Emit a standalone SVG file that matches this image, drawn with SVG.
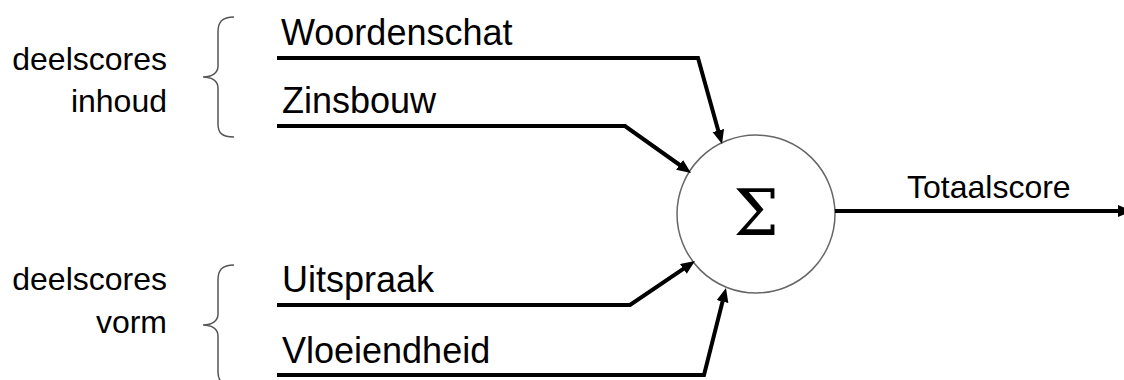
<svg xmlns="http://www.w3.org/2000/svg" width="1124" height="380" viewBox="0 0 1124 380">
  <style>
    .side { font-family: "Liberation Sans", Arial, sans-serif; font-size: 32px; fill: #000; text-anchor: end; }
    .lbl { font-family: "Liberation Sans", Arial, sans-serif; font-size: 36px; fill: #000; }
    .out { font-family: "Liberation Sans", Arial, sans-serif; font-size: 32px; fill: #000; }
    .brace { fill: none; stroke: #555; stroke-width: 1.5; }
    .wire { fill: none; stroke: #000; stroke-width: 4; stroke-linejoin: miter; marker-end: url(#arrow); }
  </style>
  <defs>
    <marker id="arrow" markerUnits="userSpaceOnUse" markerWidth="16" markerHeight="14" refX="8" refY="6" orient="auto">
      <path d="M0,0 L14,6 L0,12 z" fill="#000"/>
    </marker>
  </defs>
  <rect width="1124" height="380" fill="#fff"/>

  <!-- group captions with braces -->
  <g id="group-inhoud">
    <text class="side" x="167" y="70">deelscores</text>
    <text class="side" x="167" y="112">inhoud</text>
    <path class="brace" d="M234,17 C222,17 218,22 218,32 L218,66 C218,73 212,77 203,77 C212,77 218,81 218,88 L218,124 C218,133 222,137 234,137"/>
  </g>
  <g id="group-vorm">
    <text class="side" x="167" y="290">deelscores</text>
    <text class="side" x="167" y="333">vorm</text>
    <path class="brace" d="M234,265 C222,265 218,270 218,280 L218,314 C218,321 212,325 203,325 C212,325 218,329 218,336 L218,372 C218,381 222,385 234,385"/>
  </g>

  <!-- input labels -->
  <g id="in-woordenschat"><text class="lbl" x="281" y="45">Woordenschat</text></g>
  <g id="in-zinsbouw"><text class="lbl" x="282" y="113">Zinsbouw</text></g>
  <g id="in-uitspraak"><text class="lbl" x="282" y="292">Uitspraak</text></g>
  <g id="in-vloeiendheid"><text class="lbl" x="282" y="363">Vloeiendheid</text></g>

  <!-- summing node -->
  <g id="sum">
    <circle cx="756" cy="214" r="79" fill="#fff" stroke="#666" stroke-width="1.5"/>
    <text x="756" y="235" font-family="'DejaVu Serif', serif" font-size="64" text-anchor="middle" fill="#000">Σ</text>
  </g>

  <g id="out-label"><text class="out" x="907" y="198">Totaalscore</text></g>

  <!-- connectors -->
  <g id="connectors">
    <path class="wire" d="M277,58 H698 L720.4,138.2"/>
    <path class="wire" d="M277,126 H625 L686.1,169.5"/>
    <path class="wire" d="M277,305 H630 L690.0,264.4"/>
    <path class="wire" d="M277,375 H704 L724.5,293.8"/>
    <path class="wire" d="M835,211 H1126"/>
  </g>
</svg>
